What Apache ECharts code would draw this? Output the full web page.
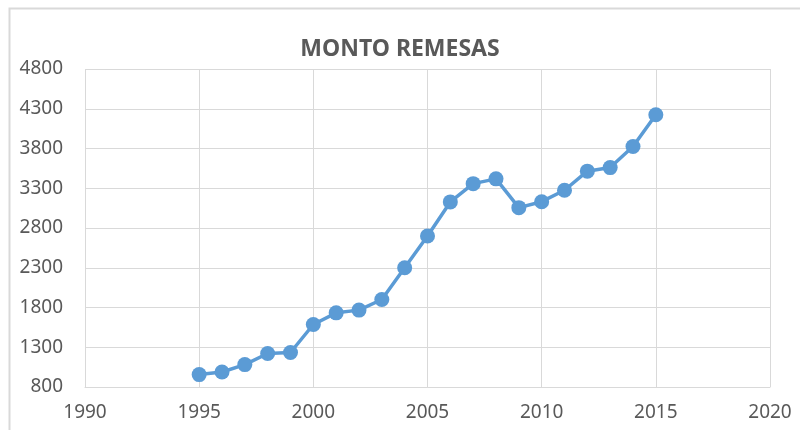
<!DOCTYPE html>
<html><head><meta charset="utf-8">
<script src="https://cdn.jsdelivr.net/npm/echarts@6/dist/echarts.min.js"></script>
<style>html,body{margin:0;padding:0;background:#fff}#c{width:800px;height:430px}</style>
</head><body><div id="c"></div>
<script>
const years = [1995,1996,1997,1998,1999,2000,2001,2002,2003,2004,2005,2006,2007,2008,2009,2010,2011,2012,2013,2014,2015];
const remesas = [956,989,1082,1221,1234,1586,1733,1767,1901,2300,2699,3128,3358,3418,3056,3131,3275,3515,3560,3825,4224];
const titleText = 'MONTO REMESAS';

const chart = echarts.init(document.getElementById('c'), null, {renderer:'canvas'});
const lbl = {color:'#595959', fontFamily:'Noto Sans', fontSize:19};
chart.setOption({
  animation:false,
  backgroundColor:'#fff',
  graphic:[{type:'rect', shape:{x:9.5,y:8.5,width:800,height:430}, style:{fill:'none', stroke:'#d9d9d9', lineWidth:2}, silent:true}],
  title:{text:titleText, left:'center', top:33, textStyle:{color:'#595959', fontFamily:'Noto Sans', fontWeight:'bold', fontSize:23}},
  grid:{left:85, right:30, top:69, bottom:43, containLabel:false},
  xAxis:{type:'value', min:1990, max:2020, interval:5,
    axisLine:{show:true, lineStyle:{color:'#d9d9d9', width:1}}, axisTick:{show:false},
    splitLine:{show:true, lineStyle:{color:'#d9d9d9', width:1}},
    axisLabel:Object.assign({margin:16, formatter:v=>String(v)}, lbl)},
  yAxis:{type:'value', min:800, max:4800, interval:500,
    axisLine:{show:false}, axisTick:{show:false},
    splitLine:{show:true, lineStyle:{color:'#d9d9d9', width:1}},
    axisLabel:Object.assign({margin:22, formatter:v=>String(v)}, lbl)},
  series:[{type:'line', data:years.map((y,i)=>[y,remesas[i]]), symbol:'circle', symbolSize:15,
    lineStyle:{color:'#5b9bd5', width:3.5}, itemStyle:{color:'#5b9bd5'}}]
});
</script></body></html>
